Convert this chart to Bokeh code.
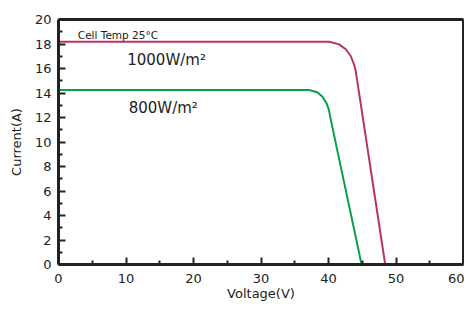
from bokeh.plotting import figure
from bokeh.models import Label, FixedTicker, LinearAxis
from bokeh.embed import file_html
from bokeh.resources import INLINE

# I-V curve points (Voltage V, Current A)
v_1000 = [0, 40.1, 41.57, 42.56, 43.29, 43.78, 44.03, 48.4]
i_1000 = [18.18, 18.18, 17.97, 17.57, 17.02, 16.34, 15.8, 0]
v_800 = [0, 37.12, 38.34, 39.07, 39.71, 40.06, 40.29, 44.9]
i_800 = [14.25, 14.25, 14.06, 13.71, 13.17, 12.62, 11.95, 0]

x_ticks = [0, 10, 20, 30, 40, 50, 60]
x_minor = [5, 15, 25, 35, 45, 55]
y_ticks = [0, 2, 4, 6, 8, 10, 12, 14, 16, 18, 20]
y_minor = [1, 3, 5, 7, 9, 11, 13, 15, 17, 19]

FONT = "DejaVu Sans"
DARK = "#222222"

p = figure(width=464, height=303, x_range=(0, 60), y_range=(0, 20),
           output_backend="svg", toolbar_location=None,
           min_border_left=58, min_border_right=1,
           min_border_top=19, min_border_bottom=38)

p.line(v_1000, i_1000, line_color="#b8336a", line_width=2)
p.line(v_800, i_800, line_color="#0aa04a", line_width=2)

p.xgrid.visible = False
p.ygrid.visible = False
p.outline_line_color = None

p.xaxis.ticker = FixedTicker(ticks=x_ticks, minor_ticks=x_minor)
p.yaxis.ticker = FixedTicker(ticks=y_ticks, minor_ticks=y_minor)

for ax in (p.xaxis, p.yaxis):
    ax.axis_line_color = DARK
    ax.axis_line_width = 3
    ax.major_tick_line_color = DARK
    ax.minor_tick_line_color = DARK
    ax.major_tick_line_width = 2
    ax.minor_tick_line_width = 2
    ax.major_tick_in = 7
    ax.major_tick_out = 0
    ax.minor_tick_in = 4
    ax.minor_tick_out = 0
    ax.major_label_text_font = FONT
    ax.major_label_text_font_size = "13px"
    ax.major_label_text_color = DARK
    ax.axis_label_text_font = FONT
    ax.axis_label_text_font_size = "13px"
    ax.axis_label_text_font_style = "normal"
    ax.axis_label_text_color = DARK

p.xaxis.axis_label = "Voltage(V)"
p.yaxis.axis_label = "Current(A)"
p.xaxis.major_label_standoff = 9
p.xaxis.axis_label_standoff = 0
p.yaxis.major_label_standoff = 7
p.yaxis.axis_label_standoff = 8

# plain frame lines on top and right (no ticks, no labels)
for loc in ("above", "right"):
    frame_axis = LinearAxis(ticker=FixedTicker(ticks=[]), axis_line_color=DARK,
                            axis_line_width=3, major_tick_line_color=None,
                            minor_tick_line_color=None, major_label_text_font_size="0px")
    p.add_layout(frame_axis, loc)

p.add_layout(Label(x=2.86, y=18.7, text="Cell Temp 25°C", text_font=FONT,
                   text_font_size="10.5px", text_color=DARK, text_baseline="alphabetic"))
p.add_layout(Label(x=10.18, y=16.72, text="1000W/m²", text_font=FONT,
                   text_font_size="15px", text_color=DARK, text_baseline="alphabetic"))
p.add_layout(Label(x=10.4, y=12.74, text="800W/m²", text_font=FONT,
                   text_font_size="15px", text_color=DARK, text_baseline="alphabetic"))

open("out.html", "w").write(file_html(p, INLINE))
